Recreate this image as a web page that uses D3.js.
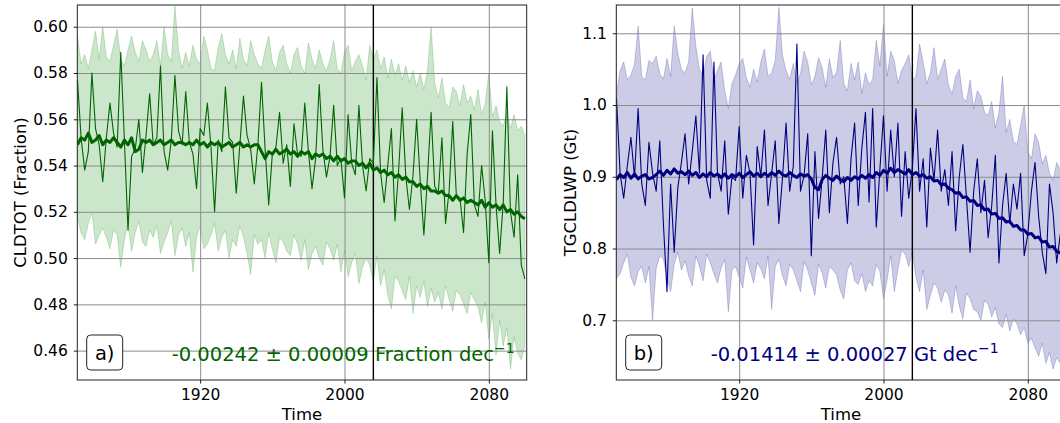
<!DOCTYPE html>
<html>
<head>
<meta charset="utf-8">
<script src="https://cdn.jsdelivr.net/npm/d3@7"></script>
<style>
body { margin: 0; background: #fff; }
svg text { font-family: "DejaVu Sans", sans-serif; fill: #000; }
</style>
</head>
<body>
<svg id="chart" width="1060" height="423"></svg>
<script>
// years of the series (every second year)
var years = d3.range(1852, 2101, 2);

// a) CLDTOT, annual value, smoothed mean, spread band
var cldAnn = [
  0.577,0.552,0.538,0.546,0.580,0.556,0.549,0.533,0.552,0.567,
  0.554,0.548,0.589,0.551,0.512,0.544,0.547,0.560,0.537,0.553,
  0.571,0.549,0.552,0.583,0.546,0.538,0.551,0.579,0.555,0.549,
  0.572,0.550,0.545,0.530,0.556,0.553,0.567,0.548,0.520,0.551,
  0.546,0.574,0.552,0.550,0.528,0.549,0.570,0.553,0.547,0.532,
  0.549,0.576,0.547,0.523,0.545,0.548,0.563,0.541,0.549,0.531,
  0.558,0.545,0.544,0.567,0.546,0.530,0.543,0.575,0.547,0.535,
  0.544,0.566,0.540,0.543,0.526,0.562,0.541,0.536,0.566,0.540,
  0.529,0.543,0.541,0.578,0.537,0.524,0.540,0.556,0.516,0.538,
  0.565,0.535,0.521,0.536,0.560,0.533,0.510,0.535,0.563,0.531,
  0.528,0.552,0.515,0.529,0.559,0.527,0.526,0.511,0.545,0.562,
  0.523,0.518,0.540,0.525,0.498,0.555,0.523,0.502,0.524,0.574,
  0.520,0.509,0.536,0.497,0.491];
var cldMean = [
  0.549,0.552,0.551,0.554,0.550,0.551,0.553,0.549,0.551,0.550,
  0.552,0.550,0.548,0.551,0.549,0.552,0.546,0.547,0.551,0.550,
  0.551,0.549,0.550,0.551,0.549,0.550,0.551,0.549,0.550,0.550,
  0.549,0.550,0.549,0.551,0.549,0.550,0.548,0.550,0.549,0.550,
  0.548,0.549,0.550,0.548,0.549,0.550,0.548,0.549,0.548,0.549,
  0.549,0.546,0.543,0.546,0.545,0.547,0.545,0.546,0.547,0.545,
  0.546,0.544,0.546,0.545,0.546,0.543,0.545,0.544,0.545,0.543,
  0.544,0.542,0.544,0.542,0.543,0.541,0.542,0.542,0.540,0.541,
  0.539,0.541,0.538,0.539,0.537,0.538,0.536,0.537,0.535,0.536,
  0.534,0.535,0.533,0.533,0.531,0.532,0.530,0.531,0.529,0.529,
  0.528,0.529,0.527,0.527,0.525,0.527,0.525,0.526,0.524,0.525,
  0.524,0.523,0.525,0.522,0.524,0.522,0.523,0.521,0.523,0.520,
  0.521,0.519,0.520,0.518,0.517];
var cldHi = [
  0.596,0.584,0.588,0.582,0.590,0.598,0.586,0.600,0.587,0.585,
  0.592,0.599,0.586,0.583,0.590,0.596,0.589,0.585,0.594,0.590,
  0.585,0.588,0.594,0.583,0.600,0.588,0.585,0.609,0.590,0.582,
  0.589,0.583,0.592,0.586,0.584,0.596,0.590,0.582,0.581,0.591,
  0.597,0.588,0.584,0.590,0.582,0.595,0.586,0.583,0.594,0.588,
  0.584,0.582,0.590,0.596,0.585,0.581,0.589,0.592,0.584,0.580,
  0.588,0.591,0.583,0.580,0.593,0.586,0.582,0.590,0.584,0.581,
  0.586,0.594,0.582,0.580,0.589,0.592,0.581,0.585,0.588,0.583,
  0.577,0.592,0.586,0.590,0.582,0.587,0.578,0.586,0.579,0.584,
  0.577,0.583,0.576,0.581,0.574,0.580,0.573,0.581,0.600,0.576,
  0.569,0.578,0.567,0.565,0.574,0.572,0.566,0.575,0.567,0.570,
  0.564,0.573,0.562,0.567,0.580,0.561,0.566,0.559,0.557,0.563,
  0.556,0.562,0.555,0.557,0.553];
var cldLo = [
  0.518,0.511,0.508,0.515,0.520,0.506,0.510,0.513,0.509,0.504,
  0.512,0.510,0.496,0.508,0.515,0.503,0.511,0.516,0.507,0.505,
  0.512,0.509,0.514,0.502,0.507,0.511,0.516,0.501,0.510,0.513,
  0.505,0.511,0.494,0.509,0.514,0.504,0.506,0.510,0.515,0.503,
  0.509,0.512,0.500,0.508,0.505,0.514,0.509,0.502,0.493,0.510,
  0.506,0.508,0.500,0.511,0.504,0.498,0.509,0.507,0.503,0.501,
  0.510,0.506,0.499,0.508,0.495,0.502,0.505,0.500,0.497,0.507,
  0.504,0.499,0.506,0.494,0.503,0.492,0.498,0.502,0.489,0.496,
  0.500,0.497,0.490,0.501,0.488,0.495,0.484,0.478,0.492,0.490,
  0.486,0.482,0.492,0.476,0.488,0.483,0.490,0.479,0.487,0.481,
  0.485,0.478,0.488,0.482,0.477,0.486,0.484,0.480,0.476,0.485,
  0.482,0.479,0.472,0.481,0.465,0.476,0.458,0.473,0.462,0.470,
  0.452,0.466,0.459,0.456,0.462];

// b) TGCLDLWP
var lwpAnn = [
  1.010,0.905,0.870,0.915,0.955,0.900,0.995,0.890,0.860,0.948,
  0.905,0.880,0.950,0.835,0.740,0.890,0.795,0.885,0.920,0.960,
  0.890,0.935,0.985,0.905,1.070,0.895,0.870,1.060,0.905,0.880,
  0.950,0.848,0.900,0.895,0.970,0.870,0.930,0.905,0.805,0.942,
  0.900,0.965,0.860,0.905,0.950,0.835,0.898,0.975,0.880,0.915,
  1.085,0.880,0.902,0.960,0.790,0.935,0.842,0.898,0.965,0.850,
  0.920,0.955,0.890,0.900,0.835,0.925,0.975,0.860,0.940,0.990,
  0.865,0.995,0.830,0.910,0.985,0.880,0.965,0.900,0.975,0.845,
  0.935,0.870,0.912,0.995,0.880,0.925,0.830,0.940,0.895,0.965,
  0.880,0.910,0.860,0.935,0.825,0.900,0.945,0.870,0.795,0.880,
  0.925,0.850,0.895,0.815,0.860,0.930,0.780,0.860,0.905,0.835,
  0.890,0.855,0.905,0.790,0.820,0.880,0.920,0.845,0.795,0.765,
  0.890,0.850,0.780,0.820,0.760];
var lwpMean = [
  0.896,0.903,0.899,0.906,0.898,0.904,0.897,0.901,0.903,0.897,
  0.899,0.903,0.908,0.902,0.909,0.904,0.911,0.905,0.907,0.903,
  0.908,0.902,0.906,0.899,0.904,0.900,0.906,0.901,0.904,0.899,
  0.904,0.898,0.903,0.900,0.905,0.899,0.903,0.907,0.901,0.905,
  0.900,0.905,0.901,0.906,0.902,0.908,0.903,0.901,0.906,0.902,
  0.899,0.904,0.901,0.903,0.897,0.885,0.882,0.896,0.902,0.898,
  0.895,0.901,0.896,0.893,0.899,0.895,0.900,0.897,0.902,0.898,
  0.903,0.899,0.906,0.902,0.909,0.905,0.912,0.906,0.910,0.907,
  0.904,0.910,0.903,0.906,0.901,0.903,0.898,0.900,0.894,0.895,
  0.889,0.890,0.884,0.882,0.877,0.878,0.871,0.872,0.866,0.867,
  0.860,0.861,0.854,0.855,0.848,0.849,0.842,0.843,0.837,0.838,
  0.831,0.832,0.826,0.826,0.820,0.821,0.815,0.816,0.809,0.810,
  0.802,0.803,0.796,0.794,0.790];
var lwpHi = [
  1.015,1.048,1.060,1.035,1.042,1.057,1.110,1.040,1.035,1.062,
  1.058,1.068,1.044,1.036,1.065,1.040,1.110,1.072,1.050,1.045,
  1.060,1.135,1.082,1.050,1.040,1.068,1.075,1.035,1.048,1.060,
  1.020,0.995,1.030,1.042,1.058,1.065,1.038,1.025,1.050,1.032,
  1.060,1.078,1.040,1.045,1.062,1.136,1.070,1.048,1.036,1.058,
  1.030,1.044,1.075,1.060,1.028,1.040,1.066,1.052,1.025,1.064,
  1.038,1.046,1.090,1.030,1.020,1.058,1.035,1.060,1.016,1.045,
  1.028,1.036,1.090,1.055,1.112,1.040,1.075,1.062,1.030,1.048,
  1.058,1.070,1.035,1.040,1.085,1.060,1.030,1.045,1.080,1.036,
  1.050,1.064,1.028,1.015,1.040,1.050,1.010,1.005,1.035,0.995,
  1.020,1.012,0.990,0.985,1.005,0.968,0.990,1.040,0.962,0.980,
  0.950,0.945,0.972,1.000,0.935,0.925,0.960,0.948,0.918,0.930,
  0.905,0.895,0.920,0.910,0.888];
var lwpLo = [
  0.758,0.765,0.780,0.792,0.760,0.748,0.768,0.775,0.752,0.775,
  0.700,0.772,0.790,0.785,0.760,0.740,0.778,0.795,0.770,0.783,
  0.762,0.748,0.790,0.775,0.755,0.792,0.780,0.765,0.752,0.773,
  0.785,0.712,0.770,0.775,0.760,0.745,0.788,0.770,0.752,0.780,
  0.772,0.758,0.790,0.715,0.775,0.785,0.762,0.748,0.778,0.770,
  0.755,0.740,0.782,0.770,0.752,0.735,0.778,0.766,0.745,0.775,
  0.770,0.763,0.742,0.730,0.770,0.780,0.755,0.750,0.765,0.740,
  0.755,0.748,0.778,0.768,0.730,0.756,0.790,0.740,0.770,0.798,
  0.792,0.775,0.795,0.760,0.740,0.770,0.715,0.735,0.752,0.745,
  0.725,0.742,0.736,0.710,0.748,0.720,0.702,0.738,0.730,0.715,
  0.712,0.700,0.728,0.722,0.705,0.718,0.695,0.690,0.708,0.685,
  0.702,0.695,0.680,0.690,0.668,0.675,0.662,0.650,0.668,0.640,
  0.655,0.632,0.648,0.640,0.625];

var xTicks = [1920, 2000, 2080];
var cldTicks = [0.46, 0.48, 0.50, 0.52, 0.54, 0.56, 0.58, 0.60];
var lwpTicks = [0.7, 0.8, 0.9, 1.0, 1.1];
var markYear = 2016;

var svg = d3.select("#chart");
var plotW = 449.4, plotTop = 5, plotBottom = 380;

function plotPanel(p) {
    var x = d3.scaleLinear().domain([1851.9, 2101]).range([p.left, p.left + plotW]);
    var y = d3.scaleLinear().domain(p.ydom).range([plotBottom, plotTop]);

    svg.append("clipPath").attr("id", "clip-" + p.id)
      .append("rect")
        .attr("x", p.left).attr("y", plotTop)
        .attr("width", plotW).attr("height", plotBottom - plotTop);

    var g = svg.append("g");
    var inner = g.append("g").attr("clip-path", "url(#clip-" + p.id + ")");

    // spread band
    var area = d3.area()
        .x(function (d, i) { return x(years[i]); })
        .y0(function (d, i) { return y(p.lo[i]); })
        .y1(function (d, i) { return y(p.hi[i]); });
    inner.append("path")
        .datum(p.hi)
        .attr("d", area)
        .attr("fill", p.band)
        .attr("fill-opacity", 0.2)
        .attr("stroke", p.band)
        .attr("stroke-opacity", 0.2)
        .attr("stroke-width", 1);

    // grid
    inner.append("g")
        .attr("transform", "translate(0," + plotBottom + ")")
        .call(d3.axisBottom(x).tickValues(xTicks).tickSize(-(plotBottom - plotTop)).tickFormat(""))
        .call(function (s) { s.select(".domain").remove(); })
        .selectAll("line").attr("stroke", "#8c8c8c").attr("stroke-width", 1);
    inner.append("g")
        .attr("transform", "translate(" + p.left + ",0)")
        .call(d3.axisLeft(y).tickValues(p.ticks).tickSize(-plotW).tickFormat(""))
        .call(function (s) { s.select(".domain").remove(); })
        .selectAll("line").attr("stroke", "#8c8c8c").attr("stroke-width", 1);

    // reference year
    inner.append("line")
        .attr("x1", x(markYear)).attr("x2", x(markYear))
        .attr("y1", plotTop).attr("y2", plotBottom)
        .attr("stroke", "#000").attr("stroke-width", 1.4);

    var line = d3.line()
        .x(function (d, i) { return x(years[i]); })
        .y(function (d) { return y(d); });
    inner.append("path")
        .datum(p.ann)
        .attr("d", line)
        .attr("fill", "none")
        .attr("stroke", p.color)
        .attr("stroke-width", 1.1)
        .attr("stroke-linejoin", "round");
    inner.append("path")
        .datum(p.mean)
        .attr("d", line)
        .attr("fill", "none")
        .attr("stroke", p.color)
        .attr("stroke-width", 3)
        .attr("stroke-linejoin", "round");

    // axes
    var ax = g.append("g")
        .attr("transform", "translate(0," + plotBottom + ")")
        .call(d3.axisBottom(x).tickValues(xTicks).tickSize(3.5).tickPadding(5.5).tickFormat(d3.format("d")));
    var ay = g.append("g")
        .attr("transform", "translate(" + p.left + ",0)")
        .call(d3.axisLeft(y).tickValues(p.ticks).tickSize(3.5).tickPadding(6).tickFormat(d3.format(p.fmt)));
    [ax, ay].forEach(function (a) {
        a.select(".domain").remove();
        a.selectAll("text").attr("font-size", "15.5px").attr("font-family", "DejaVu Sans").attr("fill", "#000");
        a.selectAll("line").attr("stroke", "#000").attr("stroke-width", 0.9);
    });

    g.append("rect")
        .attr("x", p.left).attr("y", plotTop)
        .attr("width", plotW).attr("height", plotBottom - plotTop)
        .attr("fill", "none").attr("stroke", "#222").attr("stroke-width", 1);

    // labels
    g.append("text")
        .attr("x", p.left + plotW / 2).attr("y", 419.5)
        .attr("text-anchor", "middle").attr("font-size", "16.5px")
        .text("Time");
    g.append("text")
        .attr("transform", "translate(" + p.ylabX + "," + (plotTop + plotBottom) / 2 + ") rotate(-90)")
        .attr("text-anchor", "middle").attr("font-size", "16.5px")
        .text(p.ylabel);

    // panel tag
    g.append("rect")
        .attr("x", p.left + 9.4).attr("y", 335)
        .attr("width", 36).attr("height", 35).attr("rx", 4)
        .attr("fill", "#fff").attr("stroke", "#222").attr("stroke-width", 1);
    g.append("text")
        .attr("x", p.left + 27.4).attr("y", 359.5)
        .attr("text-anchor", "middle").attr("font-size", "19.5px")
        .text(p.tag);

    // trend
    var t = g.append("text")
        .attr("x", p.left + 0.21 * plotW).attr("y", 361)
        .attr("font-size", "19.5px")
        .style("fill", p.color);
    t.append("tspan").text(p.trend);
    t.append("tspan").attr("dy", -8.5).attr("font-size", "14px").text("\u22121");
}

plotPanel({
    id: "a", left: 77.3, ydom: [0.4473, 0.6094], ticks: cldTicks, fmt: ".2f",
    ann: cldAnn, mean: cldMean, hi: cldHi, lo: cldLo,
    color: "#006400", band: "#008000",
    ylabel: "CLDTOT (Fraction)", ylabX: 26, tag: "a)",
    trend: "-0.00242 \u00b1 0.00009 Fraction dec"
});
plotPanel({
    id: "b", left: 616.3, ydom: [0.6168, 1.1394], ticks: lwpTicks, fmt: ".1f",
    ann: lwpAnn, mean: lwpMean, hi: lwpHi, lo: lwpLo,
    color: "#000080", band: "#000080",
    ylabel: "TGCLDLWP (Gt)", ylabX: 575.5, tag: "b)",
    trend: "-0.01414 \u00b1 0.00027 Gt dec"
});
</script>
</body>
</html>
